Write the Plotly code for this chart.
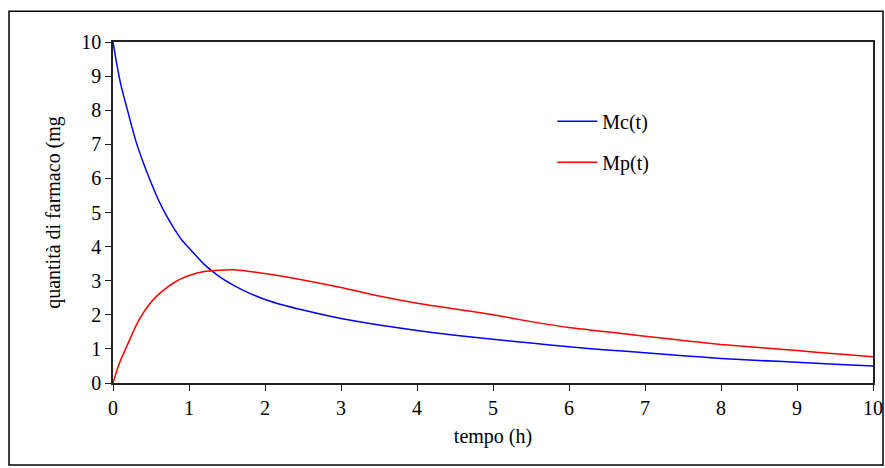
import plotly.graph_objects as go

t_values = [0, 0.05, 0.1, 0.2, 0.3, 0.4, 0.5, 0.6, 0.7, 0.8, 0.9, 1.0, 1.2, 1.4, 1.6, 1.8,
            2.0, 2.25, 2.5, 3.0, 3.5, 4.0, 4.5, 5.0, 5.5, 6.0, 6.5, 7.0, 7.5, 8.0, 8.5, 9.0, 9.5, 10.0]
mc_values = [10.0, 9.35, 8.78, 7.92, 7.10, 6.45, 5.88, 5.36, 4.92, 4.54, 4.21, 3.96, 3.48, 3.12, 2.85, 2.63,
             2.45, 2.28, 2.14, 1.89, 1.70, 1.54, 1.40, 1.28, 1.17, 1.06, 0.97, 0.89, 0.80, 0.72, 0.66, 0.61, 0.55, 0.50]
mp_values = [0.0, 0.36, 0.67, 1.17, 1.67, 2.06, 2.37, 2.60, 2.78, 2.94, 3.06, 3.15, 3.27, 3.31, 3.32, 3.27,
             3.21, 3.12, 3.02, 2.80, 2.55, 2.34, 2.17, 2.00, 1.80, 1.63, 1.50, 1.37, 1.25, 1.13, 1.04, 0.95, 0.86, 0.77]
series_names = ["Mc(t)", "Mp(t)"]
tick_vals = list(range(0, 11))
x_title = "tempo (h)"
y_title = "quantità di farmaco (mg"

FONT = "Liberation Serif, Times New Roman, serif"

fig = go.Figure()
fig.add_trace(go.Scatter(x=t_values, y=mc_values, mode="lines", name=series_names[0],
                         line=dict(color="#0000FF", width=1.5, shape="spline", smoothing=0.6),
                         legendgroup="a"))
fig.add_trace(go.Scatter(x=t_values, y=mp_values, mode="lines", name=series_names[1],
                         line=dict(color="#FF0000", width=1.5, shape="spline", smoothing=0.6),
                         legendgroup="b"))

axis_common = dict(
    range=[0, 10], tickmode="array", tickvals=tick_vals,
    showgrid=False, zeroline=False, automargin=False,
    showline=True, linecolor="#222222", linewidth=1.5, mirror=True,
    ticks="outside", ticklen=6, tickcolor="#222222", tickwidth=1,
    tickfont=dict(family=FONT, size=20, color="black"),
)

fig.update_layout(
    width=885, height=468,
    margin=dict(l=113, r=12, t=42, b=85, autoexpand=False),
    paper_bgcolor="white", plot_bgcolor="white",
    font=dict(family=FONT, size=20, color="black"),
    xaxis=dict(**axis_common, title=dict(text=x_title, font=dict(family=FONT, size=20), standoff=11)),
    yaxis=dict(**axis_common, title=dict(text=y_title, font=dict(family=FONT, size=20), standoff=15)),
    legend=dict(x=0.578, y=0.825, xanchor="left", yanchor="top", bgcolor="rgba(0,0,0,0)",
                font=dict(family=FONT, size=20), tracegroupgap=12, itemwidth=40),
    showlegend=True,
    shapes=[dict(type="rect", xref="paper", yref="paper",
                 x0=(9 - 113) / 760, x1=(883 - 113) / 760,
                 y0=(383 - 465) / 341.3, y1=(383 - 11) / 341.3,
                 line=dict(color="black", width=1.5), fillcolor="rgba(0,0,0,0)", layer="below")],
)

fig.write_html("out.html", config={"displayModeBar": False},
               post_script="document.body.style.margin='0';document.body.style.padding='0';")
